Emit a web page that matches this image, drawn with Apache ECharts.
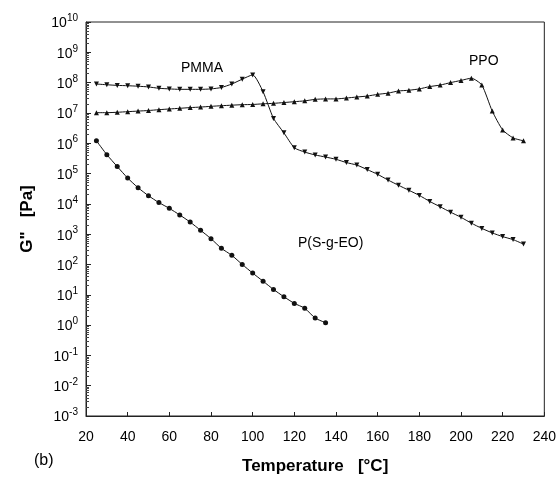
<!DOCTYPE html>
<html>
<head>
<meta charset="utf-8">
<script src="https://cdn.jsdelivr.net/npm/echarts@6/dist/echarts.min.js"></script>
<style>
  html, body { margin: 0; padding: 0; background: #fff; }
  #chart { width: 559px; height: 480px; }
</style>
</head>
<body>
<div id="chart"></div>
<script>
// 温度 (°C) 与各体系的 G'' 数据
const tempPMMA = [25, 30, 35, 40, 45, 50, 55, 60, 65, 70, 75, 80, 85, 90, 95, 100, 105, 110, 115, 120,
  125, 130, 135, 140, 145, 150, 155, 160, 165, 170, 175, 180, 185, 190, 195, 200, 205, 210, 215, 220, 225, 230]
const gPMMA = [9.0e7, 8.5e7, 8.1e7, 7.9e7, 7.6e7, 7.2e7, 6.5e7, 6.2e7, 6.0e7, 6.0e7, 6.0e7, 6.2e7, 6.9e7, 9.0e7, 1.3e8, 1.8e8, 5.0e7, 6.6e6, 2.2e6, 7.1e5,
  5.1e5, 4.1e5, 3.5e5, 2.95e5, 2.3e5, 1.9e5, 1.35e5, 9.4e4, 6.1e4, 4.1e4, 2.8e4, 1.9e4, 1.2e4, 8.0e3, 5.3e3, 3.6e3, 2.3e3, 1.55e3, 1.1e3, 8.3e2, 6.6e2, 4.7e2]

const tempPPO = [25, 30, 35, 40, 45, 50, 55, 60, 65, 70, 75, 80, 85, 90, 95, 100, 105, 110, 115, 120,
  125, 130, 135, 140, 145, 150, 155, 160, 165, 170, 175, 180, 185, 190, 195, 200, 205, 210, 215, 220, 225, 230]
const gPPO = [1.02e7, 1.02e7, 1.05e7, 1.1e7, 1.15e7, 1.2e7, 1.28e7, 1.35e7, 1.42e7, 1.5e7, 1.56e7, 1.65e7, 1.73e7, 1.8e7, 1.87e7, 1.9e7, 2.0e7, 2.07e7, 2.2e7, 2.35e7,
  2.5e7, 2.8e7, 2.9e7, 2.9e7, 3.1e7, 3.35e7, 3.6e7, 4.1e7, 4.5e7, 5.3e7, 5.6e7, 6.2e7, 7.4e7, 8.3e7, 1.0e8, 1.18e8, 1.4e8, 8.3e7, 1.15e7, 2.75e6, 1.5e6, 1.2e6]

const tempPSEO = [25, 30, 35, 40, 45, 50, 55, 60, 65, 70, 75, 80, 85, 90, 95, 100, 105, 110, 115, 120, 125, 130, 135]
const gPSEO = [1.2e6, 4.2e5, 1.7e5, 7.1e4, 3.4e4, 1.85e4, 1.1e4, 7.1e3, 4.3e3, 2.5e3, 1.34e3, 7.1e2, 3.4e2, 2.0e2, 1.0e2, 52, 28, 15, 8.6, 5.2, 3.6, 1.7, 1.2]

// 曲线旁的文字标注
const curveNames = ['PMMA', 'PPO', 'P(S-g-EO)']

function pairs(xs, ys) {
  return xs.map((x, i) => [x, ys[i]])
}

const font = '"Liberation Sans", Arial, sans-serif'

let myChart = echarts.init(document.getElementById('chart'))
myChart.setOption({
  animation: false,
  textStyle: { fontFamily: font },
  grid: {
    left: 86,
    right: 12,
    top: 22,
    bottom: 64,
    show: true,
    borderColor: '#222',
    borderWidth: 1
  },
  xAxis: {
    type: 'value',
    min: 20,
    max: 240,
    interval: 20,
    name: 'Temperature   [°C]',
    nameLocation: 'middle',
    nameGap: 42,
    nameTextStyle: { fontSize: 17, fontWeight: 'bold', color: '#000', fontFamily: font },
    axisLine: { lineStyle: { color: '#222', width: 1 } },
    axisTick: { inside: true, length: 4, lineStyle: { color: '#222' } },
    axisLabel: { fontSize: 14, color: '#000', margin: 14, fontFamily: font },
    splitLine: { show: false }
  },
  yAxis: {
    type: 'log',
    logBase: 10,
    min: 1e-3,
    max: 1e10,
    interval: 1,
    name: 'G"   [Pa]',
    nameLocation: 'middle',
    nameGap: 50,
    nameRotate: 90,
    nameTextStyle: { fontSize: 17, fontWeight: 'bold', color: '#000', fontFamily: font },
    axisLine: { show: true, lineStyle: { color: '#222', width: 1 } },
    axisTick: { inside: true, length: 5, lineStyle: { color: '#222' } },
    minorTick: { show: true, splitNumber: 9, length: 3, lineStyle: { color: '#444' } },
    axisLabel: {
      margin: 8,
      color: '#000',
      formatter: function (v) {
        const n = Math.round(Math.log10(v))
        return '{b|10}{s|' + n + '}'
      },
      rich: {
        b: { fontSize: 14, fontFamily: font, color: '#000', lineHeight: 17, verticalAlign: 'bottom' },
        s: { fontSize: 10, fontFamily: font, color: '#000', verticalAlign: 'top' }
      }
    },
    splitLine: { show: false }
  },
  graphic: [
    { type: 'text', left: 181, top: 61, style: { text: curveNames[0], fontSize: 14, fill: '#000', fontFamily: font } },
    { type: 'text', left: 469, top: 54, style: { text: curveNames[1], fontSize: 14, fill: '#000', fontFamily: font } },
    { type: 'text', left: 298, top: 236, style: { text: curveNames[2], fontSize: 14, fill: '#000', fontFamily: font } },
    { type: 'text', left: 34, top: 453, style: { text: '(b)', fontSize: 16, fill: '#000', fontFamily: font } }
  ],
  series: [
    {
      name: 'PMMA',
      type: 'line',
      data: pairs(tempPMMA, gPMMA),
      smooth: 0.2,
      symbol: 'triangle',
      symbolRotate: 180,
      symbolSize: 5,
      itemStyle: { color: '#111' },
      lineStyle: { color: '#111', width: 1 }
    },
    {
      name: 'PPO',
      type: 'line',
      data: pairs(tempPPO, gPPO),
      smooth: 0.2,
      symbol: 'triangle',
      symbolSize: 5,
      itemStyle: { color: '#111' },
      lineStyle: { color: '#111', width: 1 }
    },
    {
      name: 'P(S-g-EO)',
      type: 'line',
      data: pairs(tempPSEO, gPSEO),
      smooth: 0.2,
      symbol: 'circle',
      symbolSize: 5,
      itemStyle: { color: '#111' },
      lineStyle: { color: '#111', width: 1 }
    }
  ]
})
</script>
</body>
</html>
